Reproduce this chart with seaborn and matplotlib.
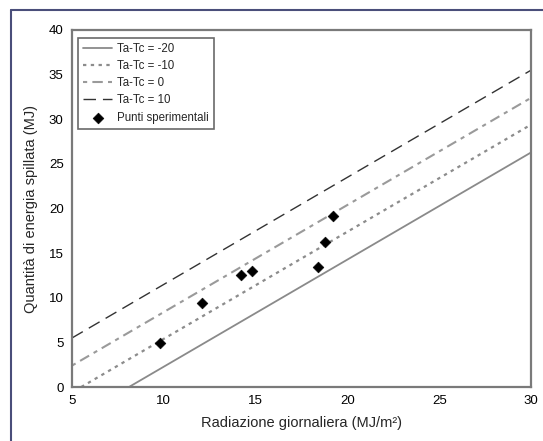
import matplotlib.pyplot as plt
import matplotlib.lines as mlines
import numpy as np
import seaborn as sns

# Radiation range and curve parameters (line = slope * (x - x0), clipped at 0)
x_range = [5, 30]
labels = ["Ta-Tc = -20", "Ta-Tc = -10", "Ta-Tc = 0", "Ta-Tc = 10"]
intercepts_x0 = [8.1, 5.5, 3.0, 0.42]
slope = 1.2

# Experimental points
exp_x = [9.8, 12.1, 14.2, 14.8, 18.4, 18.8, 19.2]
exp_y = [4.9, 9.4, 12.5, 13.0, 13.5, 16.3, 19.2]

sns.set_style("white")
plt.rcParams["font.family"] = ["Liberation Sans", "DejaVu Sans"]

fig = plt.figure(figsize=(5.43, 4.41), dpi=100)
ax = fig.add_axes([0.1326, 0.1224, 0.8454, 0.8096])

styles = [
    dict(color="#8a8a8a", linestyle="-", linewidth=1.3),
    dict(color="#8c8c8c", linestyle=(0, (1.5, 2)), linewidth=1.6),
    dict(color="#9a9a9a", linestyle=(0, (2, 2.5, 5, 2.5)), linewidth=1.5),
    dict(color="#333333", linestyle=(0, (9, 5)), linewidth=1.0),
]

xs = np.linspace(x_range[0], x_range[1], 200)
for lab, x0, st in zip(labels, intercepts_x0, styles):
    ys = slope * (xs - x0)
    mask = ys >= 0
    sns.lineplot(x=xs[mask], y=ys[mask], ax=ax, label=lab, **st)

sns.scatterplot(x=exp_x, y=exp_y, ax=ax, marker="D", s=30, color="black",
                edgecolor="black", label="Punti sperimentali", zorder=5)

ax.set_xlim(5, 30)
ax.set_ylim(0, 40)
ax.set_xticks([5, 10, 15, 20, 25, 30])
ax.set_yticks(range(0, 41, 5))
ax.tick_params(direction="in", length=3, labelsize=9.5, colors="#777777",
               labelcolor="black", pad=6)
for s in ax.spines.values():
    s.set_color("#7a7a7a")
    s.set_linewidth(1.6)

ax.set_xlabel("Radiazione giornaliera (MJ/m²)", fontsize=10.5, labelpad=6)
ax.set_ylabel("Quantità di energia spillata (MJ)", fontsize=10.5, labelpad=8)

leg = ax.legend(loc="upper left", fontsize=8.3, frameon=True, fancybox=False,
                handlelength=2.5, handletextpad=0.4, borderpad=0.45,
                labelspacing=0.45, bbox_to_anchor=(0.008, 0.985),
                borderaxespad=0.2)
leg.get_frame().set_edgecolor("#444444")
leg.get_frame().set_linewidth(1.2)

# outer frame of the scanned figure
fig.add_artist(mlines.Line2D([11 / 543, 11 / 543], [0, 1 - 10 / 441],
                             transform=fig.transFigure, color="#4a4e7a", lw=1.5))
fig.add_artist(mlines.Line2D([11 / 543, 1], [1 - 10 / 441, 1 - 10 / 441],
                             transform=fig.transFigure, color="#4a4e7a", lw=1.5))

fig.savefig("out.png", dpi=100)
